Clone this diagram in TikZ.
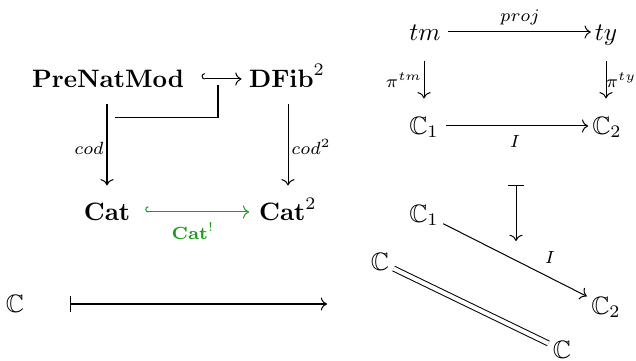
\documentclass[tikz,border=0pt]{standalone}
\usepackage{amssymb}
\usetikzlibrary{arrows.meta}
\definecolor{mygreen}{RGB}{30,155,30}
\tikzset{
  obj/.style={inner sep=0pt, outer sep=0pt, text height=1.9ex, text depth=0.4ex},
  lbl/.style={inner sep=0pt, outer sep=0pt, font=\scriptsize},
  ar/.style={-{Computer Modern Rightarrow}, line width=0.4pt},
  hk/.style={{Hooks[right]}-{Computer Modern Rightarrow}, line width=0.4pt},
  mt/.style={{Bar[width=6.5pt]}-{Computer Modern Rightarrow}, line width=0.4pt},
  hs/.style={shorten <=3pt, shorten >=1.6pt},
  vs/.style={shorten <=4.8pt, shorten >=5.6pt},
}
\begin{document}
\begin{tikzpicture}[x=0.397pt,y=-0.397pt]
\useasboundingbox (0,0) rectangle (636,361);
% left diagram
\node[obj] (pnm) at (108,79) {$\mathbf{PreNatMod}$};
\node[obj] (dfib) at (287,79) {$\mathbf{DFib}^{2}$};
\node[obj] (cat) at (107,212) {$\mathbf{Cat}$};
\node[obj] (cat2) at (288,212) {$\mathbf{Cat}^{2}$};
\draw[hk, shorten <=7pt, shorten >=3pt] (pnm) -- (dfib);
\draw[ar, vs] (pnm.south -| cat) -- (cat);
\draw[ar, vs] (dfib.south -| cat2) -- (cat2);
\node[lbl] (cod) at (89,148) {$cod$};
\node[lbl] (cod2) at (311,147) {$cod^{2}$};
\draw[hk, mygreen, shorten <=6pt, shorten >=4pt] (cat) -- (cat2);
\node[lbl, text=mygreen] (catl) at (193,231) {$\mathbf{Cat}^{!}$};
\coordinate (pb1) at (218,85);
\coordinate (pbc) at (218,118);
\coordinate (pb2) at (115,118);
\draw[line width=0.4pt] (pb1) -- (pbc) -- (pb2);
% bottom left
\node[obj] (cl) at (15,304) {$\mathbb{C}$};
\coordinate (ms1) at (70,304);
\coordinate (ms2) at (327,304);
\draw[mt] (ms1) -- (ms2);
% top right
\node[obj] (tm) at (425,32) {$tm$};
\node[obj] (ty) at (606,32) {$ty$};
\node[obj] (c1) at (424,126) {$\mathbb{C}_1$};
\node[obj] (c2) at (607,126) {$\mathbb{C}_2$};
\draw[ar, hs] (tm) -- (ty);
\draw[ar, shorten <=6.5pt, shorten >=6pt] (tm.south -| c1) -- (c1);
\draw[ar, shorten <=6.5pt, shorten >=6pt] (ty.south) -- (ty.south |- c1.north);
\draw[ar, hs] (c1) -- (c2);
\node[lbl] (proj) at (520,17) {$proj$};
\node[lbl] (pitm) at (404,80) {$\pi^{tm}$};
\node[lbl] (pity) at (621,80) {$\pi^{ty}$};
\node[lbl] (il) at (515,141) {$I$};
% maps to
\coordinate (mv1) at (516,185);
\coordinate (mv2) at (516,241);
\draw[mt] (mv1) -- (mv2);
% bottom right
\node[obj] (d1) at (424,214) {$\mathbb{C}_1$};
\node[obj] (d2) at (606,306) {$\mathbb{C}_2$};
\node[obj] (dl) at (380,262) {$\mathbb{C}$};
\node[obj] (db) at (562,350) {$\mathbb{C}$};
\draw[ar, shorten <=2pt, shorten >=2pt] (d1) -- (d2);
\node[lbl] (i2) at (550,257) {$I$};
\draw[line width=0.4pt, double, double distance=1.6pt, shorten <=2pt, shorten >=2pt] (dl) -- (db);
\end{tikzpicture}
\end{document}
